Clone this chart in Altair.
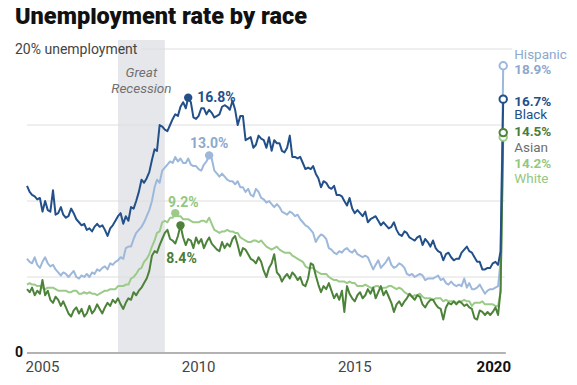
import altair as alt
import pandas as pd

# Monthly unemployment rates, Jan 2005 - Apr 2020
black = [
    11.0, 10.6, 10.4, 10.3, 10.1, 10.2, 9.3, 10.0, 9.4, 9.3, 10.7, 9.1,
    9.2, 9.6, 9.1, 8.9, 9.0, 9.5, 9.2, 8.8, 8.6, 8.4, 8.5, 8.1,
    8.2, 8.0, 8.3, 8.5, 8.3, 8.4, 8.1, 7.7, 8.2, 8.4, 8.7, 9.0,
    9.2, 8.5, 9.0, 8.7, 9.6, 9.5, 10.0, 10.6, 11.4, 11.2, 11.5, 11.9,
    12.7, 13.4, 13.3, 15.0, 14.9, 14.7, 14.6, 15.0, 15.4, 15.7, 15.6, 16.2,
    16.5, 16.1, 16.8, 16.5, 15.5, 15.4, 15.6, 16.1, 16.1, 15.7, 16.0, 15.8,
    15.5, 15.6, 15.7, 16.2, 16.3, 16.2, 16.0, 16.6, 16.0, 15.0, 15.6, 15.6,
    14.0, 14.1, 14.2, 13.5, 13.7, 14.3, 14.1, 14.0, 13.5, 14.2, 13.3, 14.0,
    13.8, 13.8, 13.3, 13.2, 13.5, 14.3, 12.9, 12.9, 12.8, 12.9, 12.5, 12.1,
    12.2, 12.1, 12.3, 11.8, 11.5, 10.9, 11.3, 11.2, 10.9, 10.8, 11.0, 10.4,
    10.4, 10.3, 10.0, 9.7, 10.2, 9.5, 9.2, 9.4, 9.2, 9.0, 9.3, 8.6,
    8.8, 8.9, 9.0, 8.7, 8.4, 8.6, 8.4, 8.2, 8.3, 8.6, 8.1, 7.8,
    7.7, 8.0, 7.9, 7.6, 7.5, 7.4, 7.6, 7.7, 7.1, 7.5, 7.3, 7.0,
    7.4, 6.9, 6.7, 6.6, 6.1, 6.5, 6.6, 6.3, 6.1, 6.2, 6.2, 6.6,
    6.8, 7.0, 6.7, 6.6, 6.3, 6.0, 6.0, 5.5, 5.5, 5.6, 5.6, 5.9,
    6.0, 5.8, 6.7, 16.7,
]
hispanic = [
    6.2, 6.0, 5.9, 6.3, 5.8, 5.6, 6.0, 6.3, 5.9, 5.7, 5.8, 5.5,
    5.3, 5.1, 5.3, 5.2, 5.0, 5.2, 5.4, 5.0, 4.9, 5.1, 5.0, 5.2,
    5.0, 5.3, 5.2, 5.5, 5.4, 5.6, 5.7, 5.5, 5.9, 5.8, 6.0, 6.1,
    6.3, 6.2, 6.9, 7.0, 7.0, 7.5, 7.9, 8.1, 8.3, 8.6, 9.0, 9.4,
    10.0, 10.9, 11.4, 11.2, 12.0, 12.2, 12.4, 12.6, 12.5, 12.9, 12.6, 12.8,
    12.5, 12.5, 12.8, 12.4, 12.3, 12.3, 12.1, 12.0, 12.4, 12.6, 13.0, 12.8,
    12.0, 11.8, 11.6, 11.8, 11.6, 11.4, 11.3, 11.3, 11.1, 11.3, 10.9, 10.9,
    10.6, 10.8, 10.4, 10.3, 10.8, 10.6, 10.2, 10.1, 9.9, 10.0, 9.8, 9.6,
    9.8, 9.6, 9.3, 9.2, 9.1, 9.3, 9.2, 9.0, 9.1, 8.8, 8.6, 8.4,
    8.3, 8.1, 7.9, 7.3, 7.6, 7.8, 7.7, 7.5, 6.9, 6.8, 6.6, 6.5,
    6.7, 6.6, 6.8, 6.9, 6.7, 6.6, 6.8, 6.5, 6.4, 6.3, 6.4, 6.3,
    5.9, 5.5, 5.8, 6.1, 5.6, 5.8, 6.0, 6.3, 5.8, 5.6, 5.7, 5.9,
    5.8, 5.6, 5.2, 5.1, 5.2, 5.0, 5.1, 5.2, 5.1, 4.8, 4.9, 4.9,
    4.9, 5.0, 5.1, 4.8, 4.9, 4.6, 4.5, 4.7, 4.5, 4.4, 4.5, 4.4,
    4.9, 4.3, 4.6, 4.2, 4.2, 4.3, 4.5, 4.2, 3.9, 4.1, 4.2, 4.2,
    4.3, 4.4, 6.0, 18.9,
]
white = [
    4.5, 4.6, 4.5, 4.5, 4.4, 4.4, 4.3, 4.2, 4.3, 4.3, 4.3, 4.2,
    4.1, 4.1, 4.1, 4.1, 4.0, 4.0, 4.1, 4.1, 3.9, 3.9, 4.0, 3.9,
    4.0, 3.9, 3.9, 3.8, 3.9, 4.0, 4.1, 4.1, 4.2, 4.2, 4.2, 4.4,
    4.4, 4.4, 4.5, 4.5, 4.9, 5.0, 5.2, 5.5, 5.6, 6.0, 6.2, 6.5,
    7.0, 7.4, 7.9, 8.0, 8.6, 8.7, 8.6, 8.9, 8.9, 9.2, 9.0, 9.0,
    8.8, 8.8, 8.8, 8.7, 8.6, 8.6, 8.6, 8.7, 8.7, 8.6, 8.9, 8.5,
    8.1, 8.0, 7.9, 8.0, 8.0, 8.1, 8.0, 8.0, 7.9, 7.9, 7.6, 7.5,
    7.4, 7.3, 7.3, 7.4, 7.4, 7.3, 7.4, 7.2, 7.0, 6.9, 6.8, 6.9,
    7.0, 6.8, 6.7, 6.6, 6.6, 6.6, 6.4, 6.3, 6.2, 6.1, 6.0, 5.7,
    5.6, 5.6, 5.6, 5.4, 5.3, 5.2, 5.2, 5.2, 5.0, 4.9, 4.8, 4.8,
    4.7, 4.7, 4.7, 4.6, 4.7, 4.6, 4.6, 4.4, 4.4, 4.4, 4.5, 4.4,
    4.3, 4.3, 4.4, 4.4, 4.2, 4.3, 4.3, 4.4, 4.4, 4.3, 4.2, 4.3,
    4.2, 4.0, 3.9, 3.8, 3.7, 3.8, 3.8, 3.9, 3.7, 3.6, 3.6, 3.6,
    3.5, 3.6, 3.6, 3.6, 3.4, 3.5, 3.4, 3.4, 3.4, 3.3, 3.4, 3.4,
    3.5, 3.4, 3.4, 3.1, 3.3, 3.3, 3.3, 3.4, 3.2, 3.2, 3.2, 3.2,
    3.1, 3.1, 4.0, 14.2,
]
asian = [
    4.2, 4.0, 4.3, 3.8, 4.1, 3.9, 4.8, 3.8, 4.1, 3.5, 3.3, 3.7,
    3.5, 3.1, 3.4, 3.0, 2.6, 2.4, 2.8, 3.0, 2.6, 2.9, 2.4, 2.6,
    3.1, 2.6, 2.8, 3.2, 2.9, 2.6, 3.0, 3.3, 3.1, 3.5, 3.3, 3.6,
    3.2, 2.9, 3.3, 3.6, 3.5, 4.0, 3.8, 4.1, 4.3, 4.6, 4.9, 5.4,
    6.4, 6.7, 6.6, 7.1, 7.5, 7.9, 8.1, 7.5, 7.4, 7.2, 7.7, 8.4,
    7.6, 7.1, 7.5, 7.4, 6.9, 7.6, 7.2, 7.5, 6.9, 7.3, 7.6, 7.2,
    7.0, 6.8, 6.7, 7.3, 6.9, 7.2, 7.0, 7.5, 7.7, 7.1, 6.4, 6.9,
    6.8, 6.5, 6.2, 6.1, 5.9, 6.3, 6.0, 5.4, 5.0, 5.6, 5.9, 6.5,
    5.3, 5.1, 4.7, 5.0, 5.2, 4.9, 5.3, 5.1, 4.8, 5.0, 4.5, 4.4,
    4.9, 5.9, 5.8, 5.1, 4.5, 4.0, 4.4, 4.2, 4.6, 4.1, 3.6, 3.9,
    3.5, 4.1, 2.7, 4.4, 3.9, 3.6, 3.4, 3.8, 4.0, 3.6, 3.8, 4.2,
    3.9, 4.3, 3.6, 4.0, 4.4, 3.8, 4.1, 3.7, 3.3, 2.7, 3.2, 3.4,
    3.1, 3.4, 3.6, 3.9, 3.7, 3.5, 3.8, 3.7, 3.2, 3.0, 3.3, 3.5,
    3.5, 3.2, 3.0, 2.9, 2.2, 3.0, 3.3, 3.2, 3.4, 3.2, 3.4, 3.3,
    3.1, 3.2, 3.0, 2.9, 2.3, 2.2, 2.8, 2.7, 2.5, 2.7, 2.5, 2.7,
    3.0, 2.5, 4.1, 14.5,
]

series_names = ["Hispanic", "White", "Asian", "Black"]   # drawing order
recession = ["2007-12-01", "2009-06-01"]
recession_text = ["Great", "Recession"]
tick_years = [2005, 2010, 2015, 2020]
y_labels = ["0", "20% unemployment"]
grid_values = [5, 10, 15, 20]

values = {"Hispanic": hispanic, "White": white, "Asian": asian, "Black": black}
line_color = {"Hispanic": "#9db8db", "White": "#9ccb89", "Asian": "#4c8239", "Black": "#24508a"}
text_color = {"Hispanic": "#8ea8cd", "White": "#94c77f", "Asian": "#4a7c3a", "Black": "#24508a"}
FONT = "Roboto"

months = pd.date_range("2005-01-01", periods=len(black), freq="MS")

xs = alt.Scale(domain=[alt.DateTime(year=2005, month=1, date=1),
                       alt.DateTime(year=2020, month=7, date=1)])
ys = alt.Scale(domain=[0, 20], nice=False)


def X(field):
    return alt.X(field, scale=xs, axis=None)


def Y(field):
    return alt.Y(field, scale=ys, axis=None)


layers = []

# Great Recession band
r0, r1 = pd.Timestamp(recession[0]), pd.Timestamp(recession[1])
rec_df = pd.DataFrame({"start": [r0], "end": [r1], "top": [20.6], "bottom": [0.0]})
layers.append(
    alt.Chart(rec_df).mark_rect(color="#e6e7ea").encode(
        x=X("start:T"), x2="end:T", y=Y("top:Q"), y2="bottom:Q")
)
mid = r0 + (r1 - r0) / 2
rec_txt = pd.DataFrame({"d": [mid, mid], "t": recession_text, "y": [18.4, 17.35]})
layers.append(
    alt.Chart(rec_txt).mark_text(
        font=FONT, fontSize=13.5, fontStyle="italic", color="#707070", align="center", baseline="middle"
    ).encode(x=X("d:T"), y=Y("y:Q"), text="t:N")
)

# gridlines
grid_df = pd.DataFrame({
    "v": grid_values,
    "start": [pd.Timestamp("2005-01-01")] * 3 + [pd.Timestamp("2008-09-10")],
    "end": [pd.Timestamp("2020-04-20")] * 3 + [pd.Timestamp("2020-07-15")],
})
layers.append(
    alt.Chart(grid_df).mark_rule(color="#dedede", strokeWidth=1).encode(
        x=X("start:T"), x2="end:T", y=Y("v:Q"))
)

# baseline
base_df = pd.DataFrame({"v": [0.0], "start": [pd.Timestamp("2005-01-01")], "end": [pd.Timestamp("2020-05-01")]})
layers.append(
    alt.Chart(base_df).mark_rule(color="#b3b3b3", strokeWidth=2).encode(
        x=X("start:T"), x2="end:T", y=Y("v:Q"))
)

# x tick labels (centred on mid-year; final year bold and flush right)
xt = pd.DataFrame({"d": [pd.Timestamp(f"{y}-07-01") for y in tick_years],
                   "t": [str(y) for y in tick_years], "v": [0.0] * len(tick_years)})
layers.append(
    alt.Chart(xt.iloc[:-1]).mark_text(font=FONT, fontSize=15, color="#444444", align="center",
                                      baseline="middle", dy=14).encode(x=X("d:T"), y=Y("v:Q"), text="t:N")
)
layers.append(
    alt.Chart(xt.iloc[-1:]).mark_text(font=FONT, fontSize=15, fontWeight="bold", color="#111111",
                                      align="right", baseline="middle", dy=14).encode(
        x=X("d:T"), y=Y("v:Q"), text="t:N")
)

# y labels
yt = pd.DataFrame({"d": [pd.Timestamp("2005-01-01")] * 2, "v": [0.0, 20.0], "t": y_labels})
layers.append(
    alt.Chart(yt.iloc[:1]).mark_text(font=FONT, fontSize=14, fontWeight="bold", color="#111111",
                                     align="right", baseline="middle", dx=-4).encode(
        x=X("d:T"), y=Y("v:Q"), text="t:N")
)
layers.append(
    alt.Chart(yt.iloc[1:]).mark_text(font=FONT, fontSize=14, color="#444444",
                                     align="left", baseline="middle", dx=-12, dy=1).encode(
        x=X("d:T"), y=Y("v:Q"), text="t:N")
)

# lines
for name in series_names:
    d = pd.DataFrame({"date": months, "rate": values[name]})
    layers.append(
        alt.Chart(d).mark_line(color=line_color[name], strokeWidth=2, strokeJoin="round").encode(
            x=X("date:T"), y=Y("rate:Q"))
    )

# peak markers and labels
peak_offsets = {
    "Black": dict(dx=9, dy=0, align="left"),
    "Hispanic": dict(dx=0, dy=-11, align="center"),
    "White": dict(dx=8, dy=-10, align="center"),
    "Asian": dict(dx=1, dy=34, align="center"),
}
for name in series_names:
    vals = values[name][:-2]
    i = max(range(len(vals)), key=lambda k: vals[k])
    pk = pd.DataFrame({"date": [months[i]], "rate": [vals[i]], "label": [f"{vals[i]:.1f}%"]})
    layers.append(alt.Chart(pk).mark_circle(color=line_color[name], size=70, opacity=1).encode(
        x=X("date:T"), y=Y("rate:Q")))
    o = peak_offsets[name]
    layers.append(
        alt.Chart(pk).mark_text(font=FONT, fontSize=14, fontWeight="bold", color=text_color[name],
                                align=o["align"], baseline="middle", dx=o["dx"], dy=o["dy"]
                                ).encode(x=X("date:T"), y=Y("rate:Q"), text="label:N")
    )

# end markers and labels
end_labels = {
    "Hispanic": [("name", -11, "normal"), ("pct", 4, "bold")],
    "Black": [("pct", 3, "bold"), ("name", 16, "normal")],
    "Asian": [("pct", -1, "bold"), ("name", 15, "normal")],
    "White": [("pct", 27, "bold"), ("name", 42, "normal")],
}
name_color = dict(text_color, Asian="#6e6e6e")
for name in series_names:
    last = values[name][-1]
    ed = pd.DataFrame({"date": [months[-1]], "rate": [last],
                       "pct": [f"{last:.1f}%"], "name": [name]})
    layers.append(alt.Chart(ed).mark_point(shape="circle", filled=True, fill="white", stroke=line_color[name],
                                           strokeWidth=2, size=55, opacity=1).encode(
        x=X("date:T"), y=Y("rate:Q")))
    for field, dy, weight in end_labels[name]:
        col = text_color[name] if field == "pct" else name_color[name]
        layers.append(
            alt.Chart(ed).mark_text(font=FONT, fontSize=13.5, fontWeight=weight, color=col,
                                    align="left", baseline="middle", dx=11, dy=dy
                                    ).encode(x=X("date:T"), y=Y("rate:Q"), text=f"{field}:N")
        )

chart = alt.layer(*layers).properties(
    width=484, height=304,
    padding={"left": 19, "top": 41, "right": 58, "bottom": 23},
    autosize=alt.AutoSizeParams(type="none"),
    title=alt.TitleParams("Unemployment rate by race", anchor="start", font=FONT, fontSize=23.5,
                          fontWeight=900, color="#111111", offset=11),
).configure_view(stroke=None)

chart.save("out.html", embed_options={"renderer": "svg", "actions": False})
